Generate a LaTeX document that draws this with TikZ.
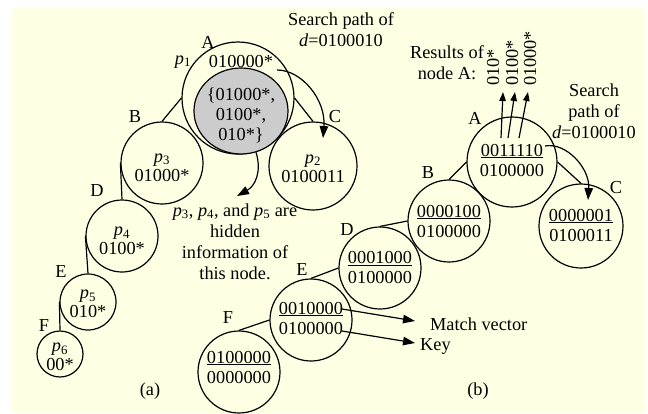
\documentclass[tikz,border=0pt]{standalone}
\usepackage{fontspec}
\setmainfont{Liberation Serif}
\usetikzlibrary{arrows.meta,shapes.geometric}
\definecolor{bgy}{RGB}{255,255,228}
\definecolor{gfill}{RGB}{204,204,204}
\begin{document}
\begin{tikzpicture}[x=1pt,y=-1pt,
  every node/.style={inner sep=0pt, font=\fontsize{18.3}{21}\selectfont},
  tnode/.style={circle, draw, line width=1.2pt, minimum size=#1},
  conn/.style={line width=1.2pt},
  arr/.style={line width=1.2pt, -{Triangle[length=12pt,width=8.5pt]}},
  sarr/.style={line width=1.2pt, -{Triangle[length=9pt,width=6.5pt]}},
  txt/.style={align=center},
  ptxt/.style={align=center, font=\fontsize{18.3}{19}\selectfont},
  btxt/.style={align=center, font=\fontsize{18.3}{20}\selectfont},
]
\useasboundingbox (0,0) rectangle (648,413);
\fill[bgy] (12,8) rectangle (645,413);

% ---------------- (a) ----------------
\node[tnode=112] (Aa) at (238,98) {};
\node[ellipse, draw, fill=gfill, line width=1.2pt, minimum width=94, minimum height=86] (Ga) at (241,111) {};
\node (pa1) at (183,62) {\textit{p}\textsubscript{1}};
\node (Ta) at (241,62) {010000*};
\node[btxt] (Gt) at (241,115) {\{01000*,\\0100*,\\010*\}};

\node[tnode=82] (Ba) at (162,163) {};
\node[tnode=88] (Ca) at (313,166) {};
\node[tnode=72] (Da) at (122,236) {};
\node[tnode=56] (Ea) at (88,302) {};
\node[tnode=46] (Fa) at (60,354) {};

\node[ptxt] (Bat) at (162,167.5) {\textit{p}\textsubscript{3}\\01000*};
\node[ptxt] (Cat) at (313,168.5) {\textit{p}\textsubscript{2}\\0100011};
\node[ptxt] (Dat) at (122,241) {\textit{p}\textsubscript{4}\\0100*};
\node[ptxt] (Eat) at (88,304) {\textit{p}\textsubscript{5}\\010*};
\node[ptxt] (Fat) at (60,357) {\textit{p}\textsubscript{6}\\00*};

\node (LAa) at (208,42) {A};
\node (LBa) at (135,117) {B};
\node (LCa) at (335,117) {C};
\node (LDa) at (97,191) {D};
\node (LEa) at (61,272) {E};
\node (LFa) at (44,326) {F};

\draw[conn] (Ba.north) -- (Aa.west);
\draw[conn] (Aa.east) -- (Ca.north);
\draw[conn] (Da.north) -- (Ba.west);
\draw[conn] (Da.west) -- (Ea.north);
\draw[conn] (Ea.west) -- (Fa.north);

\node[txt] (Sa) at (341,30) {Search path of\\\textit{d}=0100010};
\coordinate (sa0) at (277,70);
\coordinate (sa1) at (323,138);
\draw[arr] (sa0) .. controls (302,70) and (326,100) .. (sa1);

\coordinate (ha1) at (237,196);
\draw[arr] (Ga.-70) .. controls (262,172) and (255,186) .. (ha1);
\node[txt] (Ha) at (235,241.5) {\textit{p}\textsubscript{3}, \textit{p}\textsubscript{4}, and \textit{p}\textsubscript{5} are\\hidden\\information of\\this node.};

\node (capa) at (150,391) {(a)};

% ---------------- (b) ----------------
\node[tnode=90] (Ab) at (512,162) {};
\node[tnode=82] (Bb) at (449,221) {};
\node[tnode=84] (Cb) at (581,226) {};
\node[tnode=82] (Db) at (380,268) {};
\node[tnode=82] (Eb) at (311,320) {};
\node[tnode=82] (Fb) at (239,372) {};

\node[btxt] (Abt) at (512,160) {\underline{0011110}\\0100000};
\node[btxt] (Bbt) at (449,221) {\underline{0000100}\\0100000};
\node[btxt] (Cbt) at (581,225) {\underline{0000001}\\0100011};
\node[btxt] (Dbt) at (380,267.5) {\underline{0001000}\\0100000};
\node[btxt] (Ebt) at (311,318) {\underline{0010000}\\0100000};
\node[btxt] (Fbt) at (239,367) {\underline{0100000}\\0000000};

\node (LAb) at (475,118) {A};
\node (LBb) at (428,173) {B};
\node (LCb) at (616,188) {C};
\node (LDb) at (347,230) {D};
\node (LEb) at (302,270) {E};
\node (LFb) at (228,318) {F};

\draw[conn] (Bb.north) -- (Ab.west);
\draw[conn] (Ab.east) -- (Cb.north);
\draw[conn] (Db.north) -- (Bb.west);
\draw[conn] (Eb.north) -- (Db.west);
\draw[conn] (Fb.north) -- (Eb.west);

\node[txt] (Rb) at (447,63) {Results of\\node A:};
\node[rotate=90, anchor=west] (r1) at (493,86) {010*};
\node[rotate=90, anchor=west] (r2) at (512,86) {0100*};
\node[rotate=90, anchor=west] (r3) at (530,86) {01000*};
\coordinate (u1s) at (501,138); \coordinate (u1e) at (503,92);
\coordinate (u2s) at (508,138); \coordinate (u2e) at (515,92);
\coordinate (u3s) at (519,138); \coordinate (u3e) at (528,92);
\draw[sarr] (u1s) -- (u1e);
\draw[sarr] (u2s) -- (u2e);
\draw[sarr] (u3s) -- (u3e);

\node[txt] (Sb) at (594,111) {Search\\path of\\\textit{d}=0100010};
\coordinate (sb0) at (545,146);
\coordinate (sb1) at (588,200);
\draw[arr] (sb0) .. controls (566,142) and (590,168) .. (sb1);

\coordinate (mv0) at (342,309);
\coordinate (mv1) at (415,321);
\coordinate (k0) at (342,331);
\coordinate (k1) at (415,343);
\draw[arr] (mv0) -- (mv1);
\draw[arr] (k0) -- (k1);
\node[anchor=west] (MV) at (430,324) {Match vector};
\node[anchor=west] (KY) at (420,346) {Key};

\node (capb) at (478,391) {(b)};
\end{tikzpicture}
\end{document}
